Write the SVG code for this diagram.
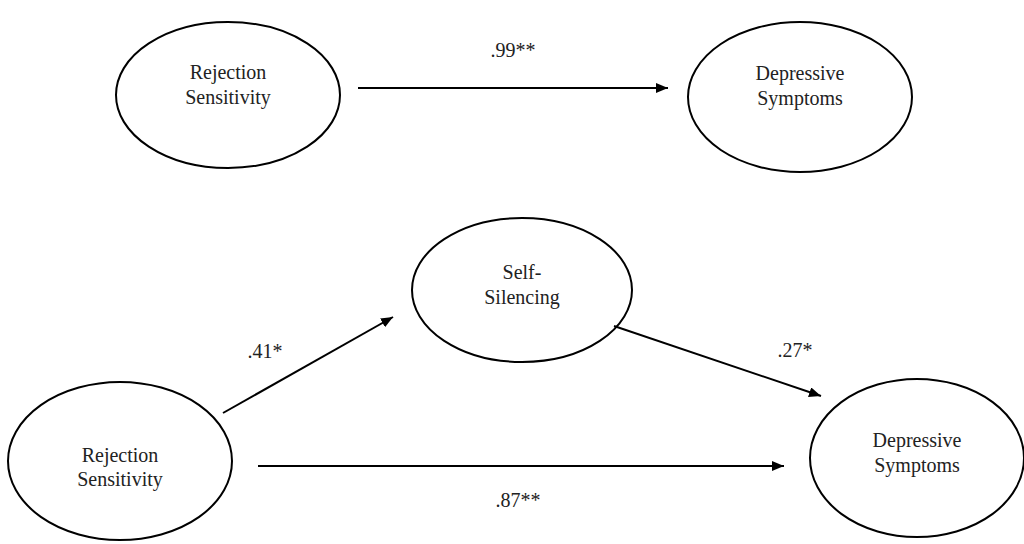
<svg xmlns="http://www.w3.org/2000/svg" width="1024" height="544" viewBox="0 0 1024 544">
<style>
.node ellipse{fill:#fff;stroke:#000;stroke-width:2}
.t{font-family:'Liberation Serif','Times New Roman',Times,'DejaVu Serif',serif;font-size:20px;fill:#222;text-anchor:middle}
.edge{stroke:#000;stroke-width:2;fill:none;marker-end:url(#ah)}
</style>
<defs>
<marker id="ah" viewBox="0 0 12 10" refX="12" refY="5" markerWidth="12" markerHeight="10" markerUnits="userSpaceOnUse" orient="auto">
<path d="M0,0 L12,5 L0,10 Z" fill="#000"/>
</marker>
</defs>
<rect width="1024" height="544" fill="#fff"/>
<g id="rs1" class="node"><ellipse cx="228" cy="95" rx="112" ry="73"/><text class="t" x="228" y="79">Rejection</text><text class="t" x="228" y="104">Sensitivity</text></g>
<g id="ds1" class="node"><ellipse cx="800" cy="97" rx="112" ry="75"/><text class="t" x="800" y="80">Depressive</text><text class="t" x="800" y="105">Symptoms</text></g>
<g id="ss" class="node"><ellipse cx="522" cy="290" rx="110" ry="72"/><text class="t" x="522" y="279">Self-</text><text class="t" x="522" y="304">Silencing</text></g>
<g id="rs2" class="node"><ellipse cx="120" cy="461" rx="112" ry="79"/><text class="t" x="120" y="462">Rejection</text><text class="t" x="120" y="486">Sensitivity</text></g>
<g id="ds2" class="node"><ellipse cx="917" cy="458" rx="107" ry="79"/><text class="t" x="917" y="447">Depressive</text><text class="t" x="917" y="472">Symptoms</text></g>
<g id="connectors">
<line class="edge" x1="358" y1="88" x2="668" y2="88"/>
<line class="edge" x1="223" y1="413" x2="393" y2="317"/>
<line class="edge" x1="614" y1="326" x2="821" y2="396"/>
<line class="edge" x1="258" y1="466" x2="784" y2="466"/>
<text class="t" x="513" y="57">.99**</text>
<text class="t" x="265" y="358">.41*</text>
<text class="t" x="795" y="357">.27*</text>
<text class="t" x="518" y="507">.87**</text>
</g>
</svg>
